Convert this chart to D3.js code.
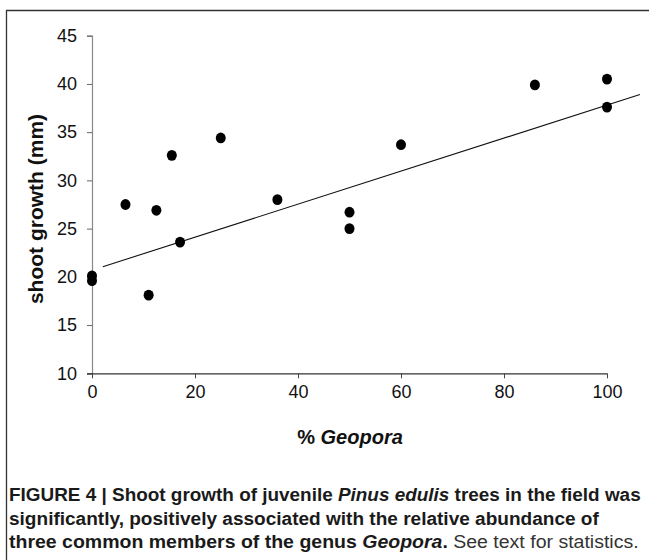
<!DOCTYPE html>
<html>
<head>
<meta charset="utf-8">
<script src="https://cdn.jsdelivr.net/npm/d3@7"></script>
<style>
  html, body { margin: 0; padding: 0; background: #fff; }
  svg { display: block; }
  text { font-family: "Liberation Sans", Arial, sans-serif; }
</style>
</head>
<body>
<div id="chart"></div>
<script>
// data
var geoporaPct = [0, 0, 6.5, 11, 12.5, 15.5, 17.1, 25, 36, 50, 50, 60, 86, 100, 100];
var shootGrowth = [20.1, 19.6, 27.5, 18.1, 26.9, 32.6, 23.6, 34.4, 28.0, 26.7, 25.0, 33.7, 39.9, 40.5, 37.6];
var trendX = [2.1, 106.4];
var trendY = [21.05, 38.9];
var xTicks = [0, 20, 40, 60, 80, 100];
var yTicks = [10, 15, 20, 25, 30, 35, 40, 45];

var width = 649, height = 560;

var svg = d3.select("#chart")
    .append("svg")
    .attr("width", width)
    .attr("height", height);

// frame (top + left edge of the figure box)
svg.append("path")
    .attr("d", "M6.5,560V10.5H649")
    .attr("fill", "none")
    .attr("stroke", "#333")
    .attr("stroke-width", 1.3);

var x = d3.scaleLinear().domain([0, 100]).range([92, 607]);
var y = d3.scaleLinear().domain([10, 45]).range([373.3, 35.7]);

// y axis
var yAxis = svg.append("g")
    .attr("transform", "translate(" + x(0) + ",0)")
    .call(d3.axisLeft(y).tickValues(yTicks).tickSize(5).tickPadding(10));
yAxis.select(".domain").attr("stroke", "#888").attr("stroke-width", 1.2);
yAxis.selectAll(".tick line").attr("stroke", "#666");
yAxis.selectAll(".tick text")
    .attr("font-size", 18)
    .attr("font-family", "Liberation Sans, Arial, sans-serif")
    .attr("fill", "#111");

// x axis
var xAxis = svg.append("g")
    .attr("transform", "translate(0," + y(10) + ")")
    .call(d3.axisBottom(x).tickValues(xTicks).tickSize(5).tickPadding(7).tickSizeOuter(0));
xAxis.select(".domain")
    .attr("d", "M" + (x(0) - 5) + ",0.5H" + x(100))
    .attr("stroke", "#333").attr("stroke-width", 1.2);
xAxis.selectAll(".tick line").attr("stroke", "#444");
xAxis.selectAll(".tick text")
    .attr("font-size", 18)
    .attr("font-family", "Liberation Sans, Arial, sans-serif")
    .attr("fill", "#111");

// regression line
svg.append("line")
    .attr("x1", x(trendX[0])).attr("y1", y(trendY[0]))
    .attr("x2", x(trendX[1])).attr("y2", y(trendY[1]))
    .attr("stroke", "#111")
    .attr("stroke-width", 1.1);

// points
svg.append("g")
    .selectAll("circle")
    .data(geoporaPct).enter()
    .append("ellipse")
    .attr("cx", function(d){ return x(d); })
    .attr("cy", function(d, i){ return y(shootGrowth[i]); })
    .attr("rx", 5)
    .attr("ry", 5.4)
    .attr("fill", "#000");

// axis titles
svg.append("text")
    .attr("transform", "translate(43,209) rotate(-90)")
    .attr("text-anchor", "middle")
    .attr("font-size", 21)
    .attr("font-weight", "bold")
    .attr("fill", "#111")
    .text("shoot growth (mm)");

var xt = svg.append("text")
    .attr("x", 350)
    .attr("y", 444)
    .attr("text-anchor", "middle")
    .attr("font-size", 20)
    .attr("font-weight", "bold")
    .attr("fill", "#111");
xt.append("tspan").text("% ");
xt.append("tspan").attr("font-style", "italic").text("Geopora");

// caption, each line squeezed to the width seen in the figure
var caption = [
    {y: 501, w: 632, parts: [
        ["FIGURE 4 | Shoot growth of juvenile ", "bold", "normal"],
        ["Pinus edulis", "bold", "italic"],
        [" trees in the field was", "bold", "normal"]]},
    {y: 525, w: 590, parts: [
        ["significantly, positively associated with the relative abundance of", "bold", "normal"]]},
    {y: 548, w: 630, parts: [
        ["three common members of the genus ", "bold", "normal"],
        ["Geopora", "bold", "italic"],
        [".", "bold", "normal"],
        [" See text for statistics.", "normal", "normal"]]}
];

caption.forEach(function(line){
    var t = svg.append("text")
        .attr("font-size", 18.5)
        .attr("fill", "#1a1a1a");
    line.parts.forEach(function(p){
        t.append("tspan")
            .attr("font-weight", p[1])
            .attr("font-style", p[2])
            .attr("fill", p[1] === "normal" ? "#333" : "#1a1a1a")
            .text(p[0]);
    });
    var w = t.node().getComputedTextLength();
    t.attr("transform", "translate(9," + line.y + ") scale(" + (line.w / w) + ",1)");
});
</script>
</body>
</html>
